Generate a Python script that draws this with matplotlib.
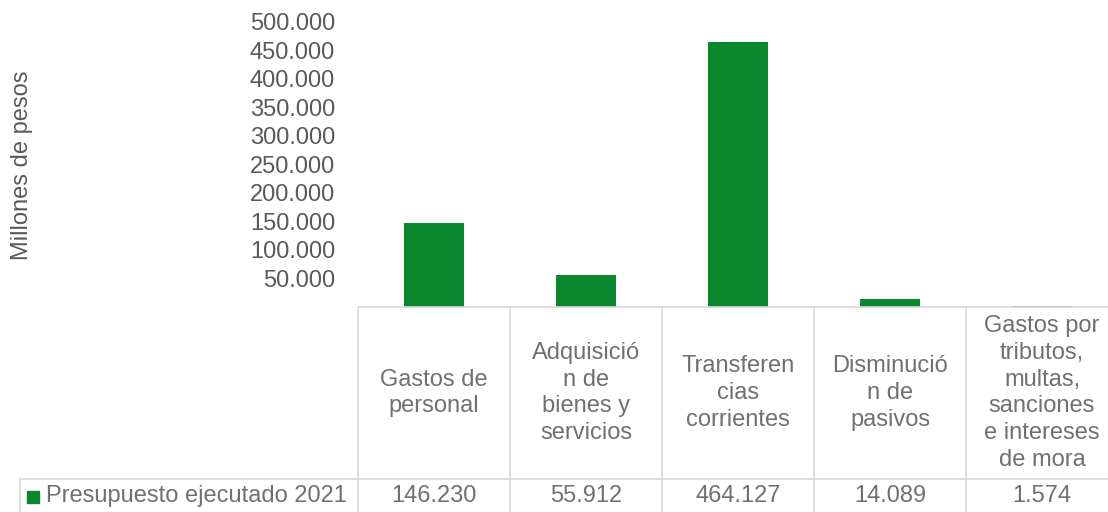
import matplotlib.pyplot as plt
from matplotlib.transforms import blended_transform_factory
from matplotlib.lines import Line2D
from matplotlib.patches import Rectangle

# Data
categories = ["Gastos de\npersonal",
              "Adquisició\nn de\nbienes y\nservicios",
              "Transferen\ncias\ncorrientes",
              "Disminució\nn de\npasivos",
              "Gastos por\ntributos,\nmultas,\nsanciones\ne intereses\nde mora"]
values = [146230, 55912, 464127, 14089, 1574]
series_name = "Presupuesto ejecutado 2021"
y_ticks = [50000, 100000, 150000, 200000, 250000, 300000, 350000, 400000, 450000, 500000]

green = "#0A882E"
text_col = "#595959"
table_text = "#707070"
line_col = "#d9d9d9"
fs = 17

plt.rcParams['font.family'] = ['Liberation Sans', 'DejaVu Sans']

W, H = 1108, 512
fig = plt.figure(figsize=(W / 100, H / 100), dpi=100)

def fy(py):
    return 1 - py / H

x0, x1 = 358, 1118
y_zero, y_top = 306.7, 21.7
ax = fig.add_axes([x0 / W, fy(y_zero), (x1 - x0) / W, (y_zero - y_top) / H])

x = list(range(len(categories)))
ax.bar(x, values, width=0.395, color=green)
ax.set_xlim(-0.5, len(categories) - 0.5)
ax.set_ylim(0, 500000)
ax.set_yticks(y_ticks)
ax.set_yticklabels([f"{v:,}".replace(",", ".") for v in y_ticks])
ax.tick_params(axis='y', length=0, pad=16.5, labelsize=fs, labelcolor=text_col)
ax.set_xticks([])
for s in ax.spines.values():
    s.set_visible(False)

fig.text(22 / W, fy(165), "Millones de pesos", rotation=90, fontsize=fs,
         color=text_col, ha='center', va='center')

# Data table below the axis
tr = blended_transform_factory(ax.transData, fig.transFigure)
row_line = 479
bottom = 530
lw = 1.2
fig.add_artist(Line2D([-0.5, len(categories) - 0.5], [fy(y_zero), fy(y_zero)],
                      transform=tr, color=line_col, lw=lw))
for i in range(len(categories)):
    fig.add_artist(Line2D([i - 0.5, i - 0.5], [fy(y_zero), fy(bottom)],
                          transform=tr, color=line_col, lw=lw))
fig.add_artist(Line2D([19.5 / W, 1.0], [fy(row_line), fy(row_line)],
                      transform=fig.transFigure, color=line_col, lw=lw))
fig.add_artist(Line2D([19.5 / W, 19.5 / W], [fy(row_line), fy(bottom)],
                      transform=fig.transFigure, color=line_col, lw=lw))

for i, (c, v) in enumerate(zip(categories, values)):
    fig.text(i, fy(393), c, transform=tr, ha='center', va='center',
             fontsize=fs, color=table_text, linespacing=1.28)
    fig.text(i, fy(496), f"{v:,}".replace(",", "."), transform=tr,
             ha='center', va='center', fontsize=fs, color=table_text)

fig.add_artist(Rectangle((27 / W, fy(503)), 12 / W, 12 / H,
                         transform=fig.transFigure, color=green))
fig.text(46 / W, fy(496), series_name, ha='left', va='center',
         fontsize=fs, color=table_text)

fig.savefig("out.png", dpi=100)
